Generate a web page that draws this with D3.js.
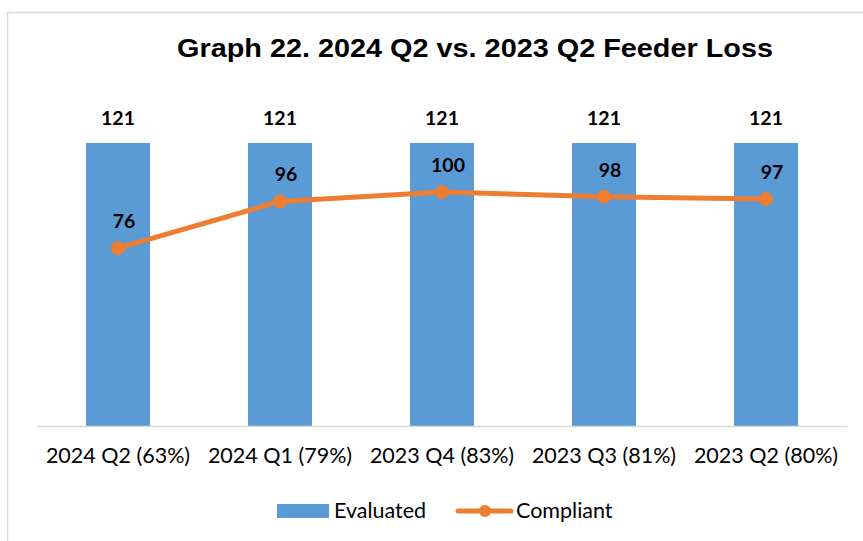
<!DOCTYPE html>
<html>
<head>
<meta charset="utf-8">
<script src="https://cdn.jsdelivr.net/npm/d3@7"></script>
<style>
  body { margin: 0; background: #fff; }
  svg { display: block; }
</style>
</head>
<body>
<script>
var categories = ["2024 Q2 (63%)", "2024 Q1 (79%)", "2023 Q4 (83%)", "2023 Q3 (81%)", "2023 Q2 (80%)"];
var evaluated = [121, 121, 121, 121, 121];
var compliant = [76, 96, 100, 98, 97];
var seriesNames = ["Evaluated", "Compliant"];
var title = "Graph 22. 2024 Q2 vs. 2023 Q2 Feeder Loss";

var w = 863, h = 541;
var blue = "#5B9BD5", orange = "#ED7D31";
var labelFont = "Lato, Carlito, Calibri, sans-serif";

var svg = d3.select("body").append("svg")
	.attr("width", w)
	.attr("height", h);

// chart frame (only top and left edges are inside the picture)
svg.append("path")
	.attr("d", "M7.5," + h + "V12.5H" + w)
	.attr("fill", "none")
	.attr("stroke", "#d9d9d9")
	.attr("stroke-width", 1.5);

svg.append("text")
	.text(title)
	.attr("x", 475)
	.attr("y", 57)
	.attr("text-anchor", "middle")
	.attr("textLength", 596)
	.attr("lengthAdjust", "spacingAndGlyphs")
	.attr("font-family", "Liberation Sans, Arial, sans-serif")
	.attr("font-weight", "bold")
	.attr("font-size", "26.5px")
	.attr("fill", "#000");

var x = d3.scaleBand()
	.domain(categories)
	.range([37, 847])
	.paddingInner(0.605)
	.paddingOuter(0.3025);

var y = d3.scaleLinear()
	.domain([0, 140])
	.range([426, 98.5]);

// bars
svg.selectAll("rect.bar")
	.data(evaluated)
	.enter()
	.append("rect")
	.attr("class", "bar")
	.attr("x", function(d, i) { return x(categories[i]); })
	.attr("y", function(d) { return y(d); })
	.attr("width", x.bandwidth())
	.attr("height", function(d) { return y(0) - y(d); })
	.attr("fill", blue);

// x axis
var xAxis = svg.append("g")
	.attr("transform", "translate(0," + y(0) + ")")
	.call(d3.axisBottom(x).tickSize(0).tickPadding(22));
xAxis.select(".domain").attr("stroke", "#d9d9d9").attr("stroke-width", 1.5);
xAxis.selectAll("text")
	.attr("font-family", labelFont)
	.attr("font-size", "21.5px")
	.attr("fill", "#000");

// bar labels
svg.selectAll("text.barlabel")
	.data(evaluated)
	.enter()
	.append("text")
	.attr("class", "barlabel")
	.text(function(d) { return d; })
	.attr("x", function(d, i) { return x(categories[i]) + x.bandwidth() / 2; })
	.attr("y", function(d) { return y(d) - 18; })
	.attr("text-anchor", "middle")
	.attr("font-family", labelFont)
	.attr("font-weight", "bold")
	.attr("font-size", "19.5px")
	.attr("fill", "#000");

// line
var cx = function(d, i) { return x(categories[i]) + x.bandwidth() / 2; };
var line = d3.line()
	.x(cx)
	.y(function(d) { return y(d); });

svg.append("path")
	.datum(compliant)
	.attr("d", line)
	.attr("fill", "none")
	.attr("stroke", orange)
	.attr("stroke-width", 5)
	.attr("stroke-linejoin", "round")
	.attr("stroke-linecap", "round");

svg.selectAll("circle.pt")
	.data(compliant)
	.enter()
	.append("circle")
	.attr("class", "pt")
	.attr("cx", cx)
	.attr("cy", function(d) { return y(d); })
	.attr("r", 7)
	.attr("fill", orange);

svg.selectAll("text.ptlabel")
	.data(compliant)
	.enter()
	.append("text")
	.attr("class", "ptlabel")
	.text(function(d) { return d; })
	.attr("x", function(d, i) { return cx(d, i) + 6; })
	.attr("y", function(d) { return y(d) - 20; })
	.attr("text-anchor", "middle")
	.attr("font-family", labelFont)
	.attr("font-weight", "bold")
	.attr("font-size", "19.5px")
	.attr("fill", "#000");

// legend
var legend = svg.append("g");
legend.append("rect")
	.attr("x", 277)
	.attr("y", 504)
	.attr("width", 52)
	.attr("height", 14)
	.attr("fill", blue);
legend.append("text")
	.text(seriesNames[0])
	.attr("x", 334)
	.attr("y", 518)
	.attr("font-family", labelFont)
	.attr("font-size", "21.5px")
	.attr("fill", "#000");
legend.append("line")
	.attr("x1", 458).attr("x2", 511)
	.attr("y1", 511).attr("y2", 511)
	.attr("stroke", orange)
	.attr("stroke-width", 5)
	.attr("stroke-linecap", "round");
legend.append("circle")
	.attr("cx", 485)
	.attr("cy", 511)
	.attr("r", 6)
	.attr("fill", orange);
legend.append("text")
	.text(seriesNames[1])
	.attr("x", 516)
	.attr("y", 518)
	.attr("font-family", labelFont)
	.attr("font-size", "21.5px")
	.attr("fill", "#000");
</script>
</body>
</html>
